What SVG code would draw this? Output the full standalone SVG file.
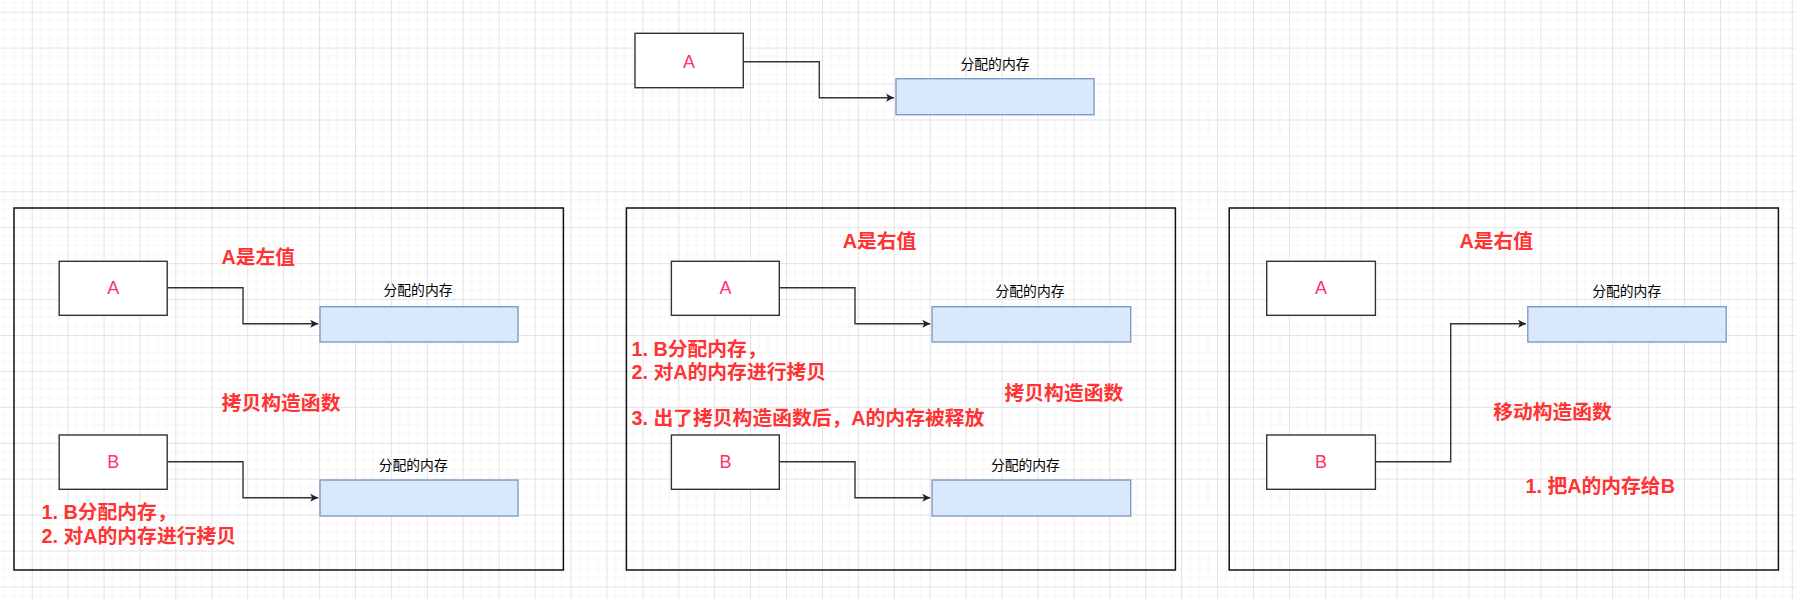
<svg xmlns="http://www.w3.org/2000/svg" width="1796" height="599" viewBox="0 0 1796 599">
<style>
.node{fill:#ffffff;stroke:#333333;stroke-width:1.4}
.frame{fill:none;stroke:#111111;stroke-width:1.5}
.mem{fill:#dae8fc;stroke:#7c9cc8;stroke-width:1.4}
.lbl{font-family:"Liberation Sans","Noto Sans CJK SC",sans-serif;fill:#ff3366;font-size:18px;text-anchor:middle;dominant-baseline:central}
.mtxt{font-family:"Liberation Sans","Noto Sans CJK SC",sans-serif;fill:#000000;font-size:13.8px;text-anchor:middle;dominant-baseline:central}
.hd{font-family:"Liberation Sans","Noto Sans CJK SC",sans-serif;fill:#ff3333;font-size:19.8px;font-weight:bold;dominant-baseline:central}
.c{text-anchor:middle}
.conn{fill:none;stroke:#333333;stroke-width:1.4}
</style>
<defs>
<pattern id="grid" patternUnits="userSpaceOnUse" x="31.7" y="11.7" width="35.92" height="35.92">
<path d="M8.98 0V35.92M17.96 0V35.92M26.94 0V35.92M0 8.98H35.92M0 17.96H35.92M0 26.94H35.92" stroke="#f5f5f5" stroke-width="1" fill="none"/>
<path d="M0.5 0V35.92M0 0.5H35.92" stroke="#e3e3e3" stroke-width="1" fill="none"/>
</pattern>
<marker id="arr" markerWidth="10" markerHeight="10" refX="8" refY="5" orient="auto" markerUnits="userSpaceOnUse">
<path d="M0,1 L8,5 L0,9 L2,5 Z" fill="#222222"/>
</marker>
</defs>
<rect width="1796" height="599" fill="#ffffff"/>
<rect width="1796" height="599" fill="url(#grid)"/>

<g id="frame1"><rect class="frame" x="14" y="208" width="549.4" height="362"/></g>
<g id="frame2"><rect class="frame" x="626.4" y="208" width="549" height="362"/></g>
<g id="frame3"><rect class="frame" x="1229.2" y="208" width="549.2" height="362"/></g>

<g id="connectors">
<path class="conn" d="M743.3 61.7H819.3V97.7H894" marker-end="url(#arr)"/>
<path class="conn" d="M167.2 287.7H243V323.7H318.2" marker-end="url(#arr)"/>
<path class="conn" d="M167.2 461.7H243V497.7H318.2" marker-end="url(#arr)"/>
<path class="conn" d="M779.3 287.7H855V323.7H930.3" marker-end="url(#arr)"/>
<path class="conn" d="M779.3 461.7H855V497.7H930.3" marker-end="url(#arr)"/>
<path class="conn" d="M1375.4 461.7H1450.7V323.7H1526" marker-end="url(#arr)"/>
</g>

<g id="top-A"><rect class="node" x="635" y="33.3" width="108.3" height="54.4"/><text class="lbl" x="689" y="61.7">A</text></g>
<g id="top-mem"><rect class="mem" x="896" y="78.7" width="198" height="36"/><text class="mtxt" x="995" y="64.3">分配的内存</text></g>

<g id="p1-title"><text class="hd c" x="258.2" y="256.7">A是左值</text></g>
<g id="p1-A"><rect class="node" x="59.2" y="261.3" width="108" height="54"/><text class="lbl" x="113.2" y="288">A</text></g>
<g id="p1-memA"><rect class="mem" x="320" y="306.7" width="198" height="35.3"/><text class="mtxt" x="418" y="290.7">分配的内存</text></g>
<g id="p1-ctor"><text class="hd c" x="281.1" y="403.3">拷贝构造函数</text></g>
<g id="p1-B"><rect class="node" x="59.2" y="435" width="108" height="54.3"/><text class="lbl" x="113.2" y="462.3">B</text></g>
<g id="p1-memB"><rect class="mem" x="320" y="480" width="198" height="36"/><text class="mtxt" x="413.2" y="465">分配的内存</text></g>
<g id="p1-notes"><text class="hd" x="41.5" y="512.3">1. B分配内存，</text><text class="hd" x="41.5" y="535.7">2. 对A的内存进行拷贝</text></g>

<g id="p2-title"><text class="hd c" x="879.6" y="241">A是右值</text></g>
<g id="p2-A"><rect class="node" x="671.4" y="261.3" width="107.9" height="54"/><text class="lbl" x="725.4" y="288">A</text></g>
<g id="p2-memA"><rect class="mem" x="932.1" y="306.7" width="198.6" height="35.3"/><text class="mtxt" x="1030" y="291">分配的内存</text></g>
<g id="p2-notes"><text class="hd" x="631.5" y="349">1. B分配内存，</text><text class="hd" x="631.5" y="371.7">2. 对A的内存进行拷贝</text><text class="hd" x="631.5" y="418.3">3. 出了拷贝构造函数后，A的内存被释放</text></g>
<g id="p2-ctor"><text class="hd c" x="1063.9" y="392.5">拷贝构造函数</text></g>
<g id="p2-B"><rect class="node" x="671.4" y="435" width="107.9" height="54.3"/><text class="lbl" x="725.4" y="462.3">B</text></g>
<g id="p2-memB"><rect class="mem" x="932.1" y="480" width="198.6" height="36"/><text class="mtxt" x="1025.4" y="465">分配的内存</text></g>

<g id="p3-title"><text class="hd c" x="1496.2" y="241">A是右值</text></g>
<g id="p3-A"><rect class="node" x="1266.7" y="261.3" width="108.7" height="54"/><text class="lbl" x="1321" y="288">A</text></g>
<g id="p3-mem"><rect class="mem" x="1527.8" y="306.7" width="198.4" height="35.3"/><text class="mtxt" x="1626.7" y="291">分配的内存</text></g>
<g id="p3-ctor"><text class="hd c" x="1552.5" y="411.7">移动构造函数</text></g>
<g id="p3-B"><rect class="node" x="1266.7" y="435" width="108.7" height="54.3"/><text class="lbl" x="1321" y="462.3">B</text></g>
<g id="p3-note"><text class="hd c" x="1600.2" y="485.7">1. 把A的内存给B</text></g>
</svg>
